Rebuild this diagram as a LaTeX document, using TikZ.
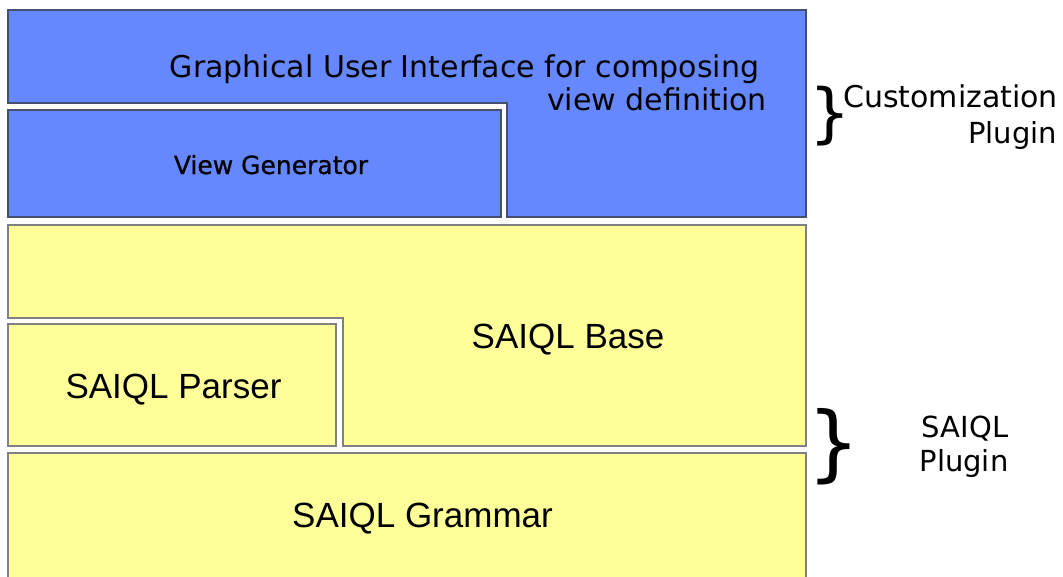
\documentclass[tikz,border=0pt]{standalone}
\usepackage{fontspec}
\setmainfont{DejaVu Sans}
\newfontfamily\arialfont{Liberation Sans}
\newfontfamily\heavyfont[FakeBold=0.8]{DejaVu Sans}
\definecolor{layerblue}{RGB}{102,136,255}
\definecolor{blueedge}{RGB}{70,80,110}
\definecolor{layeryellow}{RGB}{255,255,153}
\definecolor{yellowedge}{RGB}{128,128,128}
\tikzset{
  bluelayer/.style={fill=layerblue, draw=blueedge, line width=1.2pt},
  yellowlayer/.style={fill=layeryellow, draw=yellowedge, line width=1.2pt},
  guitext/.style={font=\fontsize{30}{30}\selectfont, anchor=base, inner sep=0pt},
  gentext/.style={font=\heavyfont\fontsize{25}{25}\selectfont, anchor=base, inner sep=0pt},
  saiqltext/.style={font=\arialfont\fontsize{35}{35}\selectfont, anchor=base, inner sep=0pt},
  sidetext/.style={font=\fontsize{29}{29}\selectfont, anchor=base, inner sep=0pt},
  bracetext/.style={anchor=center, inner sep=0pt},
}
\begin{document}
\begin{tikzpicture}[x=1pt, y=-1pt]
\useasboundingbox (0,0) rectangle (1063,576);
\clip (0,0) rectangle (1063,576);

% customization plugin layers
\path[bluelayer] (8,10) -- (806,10) -- (806,217) -- (507,217) -- (507,103) -- (8,103) -- cycle;
\path[bluelayer] (8,110) rectangle (501,217);

% SAIQL plugin layers
\path[yellowlayer] (8,225) -- (806,225) -- (806,446) -- (343,446) -- (343,318) -- (8,318) -- cycle;
\path[yellowlayer] (8,324) rectangle (336,446);
\path[yellowlayer] (8,453) rectangle (806,590);

% layer labels
\node[guitext] (gui1) at (464.5,77) {Graphical User Interface for composing};
\node[guitext] (gui2) at (657,110) {view definition};
\node[gentext] (gen) at (271,174) {View Generator};
\node[saiqltext] (base) at (568,348) {SAIQL Base};
\node[saiqltext] (parser) at (173.5,398) {SAIQL Parser};
\node[saiqltext] (grammar) at (422.5,527) {SAIQL Grammar};

% plugin braces and names
\node[bracetext, font=\fontsize{65}{65}\selectfont] (brace1) at (830,116) {\}};
\node[sidetext, font=\fontsize{30}{30}\selectfont] (cust1) at (950.5,107) {Customization};
\node[sidetext] (cust2) at (1012.5,143) {Plugin};
\node[bracetext, font=\fontsize{83}{83}\selectfont] (brace2) at (834,447) {\}};
\node[sidetext] (sp1) at (965,437) {SAIQL};
\node[sidetext] (sp2) at (964,471) {Plugin};
\end{tikzpicture}
\end{document}
